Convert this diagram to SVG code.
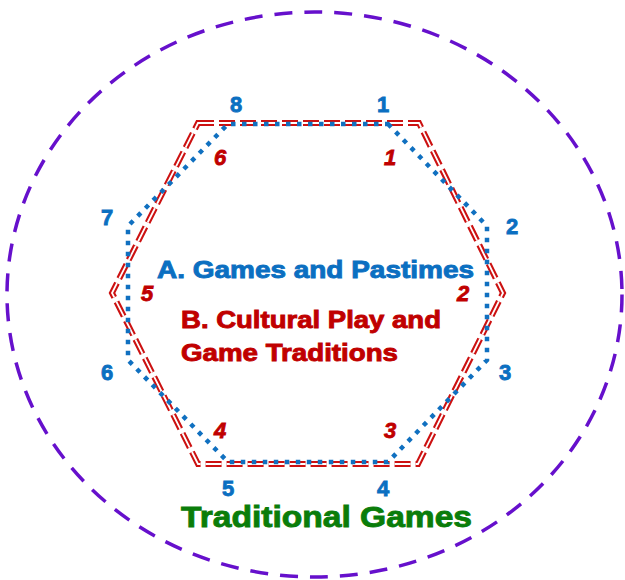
<svg xmlns="http://www.w3.org/2000/svg" width="625" height="580" viewBox="0 0 625 580">
<style>
.outer{fill:none;stroke:#6610cc;stroke-width:3.5;stroke-dasharray:18,12}
.hexR{fill:none;stroke:#cc1111;stroke-width:6;stroke-dasharray:16,5}
.hexW{fill:none;stroke:#ffffff;stroke-width:1.8;stroke-dasharray:16,5}
.oct{fill:none;stroke:#1070c0;stroke-width:4.5;stroke-dasharray:4.5,6.5}
.bl{font-family:"Liberation Sans",Arial,sans-serif;font-weight:bold;fill:#0b6fc1;stroke:#0b6fc1;stroke-width:0.8;font-size:22px;text-anchor:middle}
.rl{font-family:"Liberation Sans",Arial,sans-serif;font-weight:bold;font-style:italic;fill:#c00000;stroke:#c00000;stroke-width:0.8;font-size:22px;text-anchor:middle}
.t{font-family:"Liberation Sans",Arial,sans-serif;font-weight:bold;stroke-width:0.9}
</style>
<g id="outer-ring"><ellipse class="outer" cx="314.5" cy="294.5" rx="307.5" ry="282.5"/></g>
<g id="connectors">
<g id="hexagon-B">
<polygon class="hexR" points="198,123 419,123 503,293 418,464 198,464 112,293"/>
<polygon class="hexW" points="198,123 419,123 503,293 418,464 198,464 112,293"/>
</g>
<g id="octagon-A">
<polygon class="oct" points="388,124 487,226 487,360 388,462 228,462 128,360 128,226 228,124"/>
</g>
</g>
<g id="labels-A">
<text class="bl" x="383" y="112">1</text>
<text class="bl" x="512" y="234">2</text>
<text class="bl" x="505" y="380">3</text>
<text class="bl" x="383" y="496">4</text>
<text class="bl" x="228" y="496">5</text>
<text class="bl" x="107" y="380">6</text>
<text class="bl" x="107" y="225">7</text>
<text class="bl" x="236" y="112">8</text>
</g>
<g id="labels-B">
<text class="rl" x="390" y="165">1</text>
<text class="rl" x="463" y="301">2</text>
<text class="rl" x="390" y="438">3</text>
<text class="rl" x="220" y="438">4</text>
<text class="rl" x="147" y="301">5</text>
<text class="rl" x="220" y="165">6</text>
</g>
<g id="title-A"><text class="t" x="157" y="278" font-size="24" fill="#0b6fc1" stroke="#0b6fc1" textLength="317" lengthAdjust="spacingAndGlyphs">A. Games and Pastimes</text></g>
<g id="title-B">
<text class="t" x="181" y="328" font-size="24" fill="#c00000" stroke="#c00000" textLength="260" lengthAdjust="spacingAndGlyphs">B. Cultural Play and</text>
<text class="t" x="181" y="361" font-size="24" fill="#c00000" stroke="#c00000" textLength="217" lengthAdjust="spacingAndGlyphs">Game Traditions</text>
</g>
<g id="title-main"><text class="t" x="181" y="527" font-size="30" fill="#0a7d0a" stroke="#0a7d0a" stroke-width="1.1" textLength="291" lengthAdjust="spacingAndGlyphs">Traditional Games</text></g>
</svg>
